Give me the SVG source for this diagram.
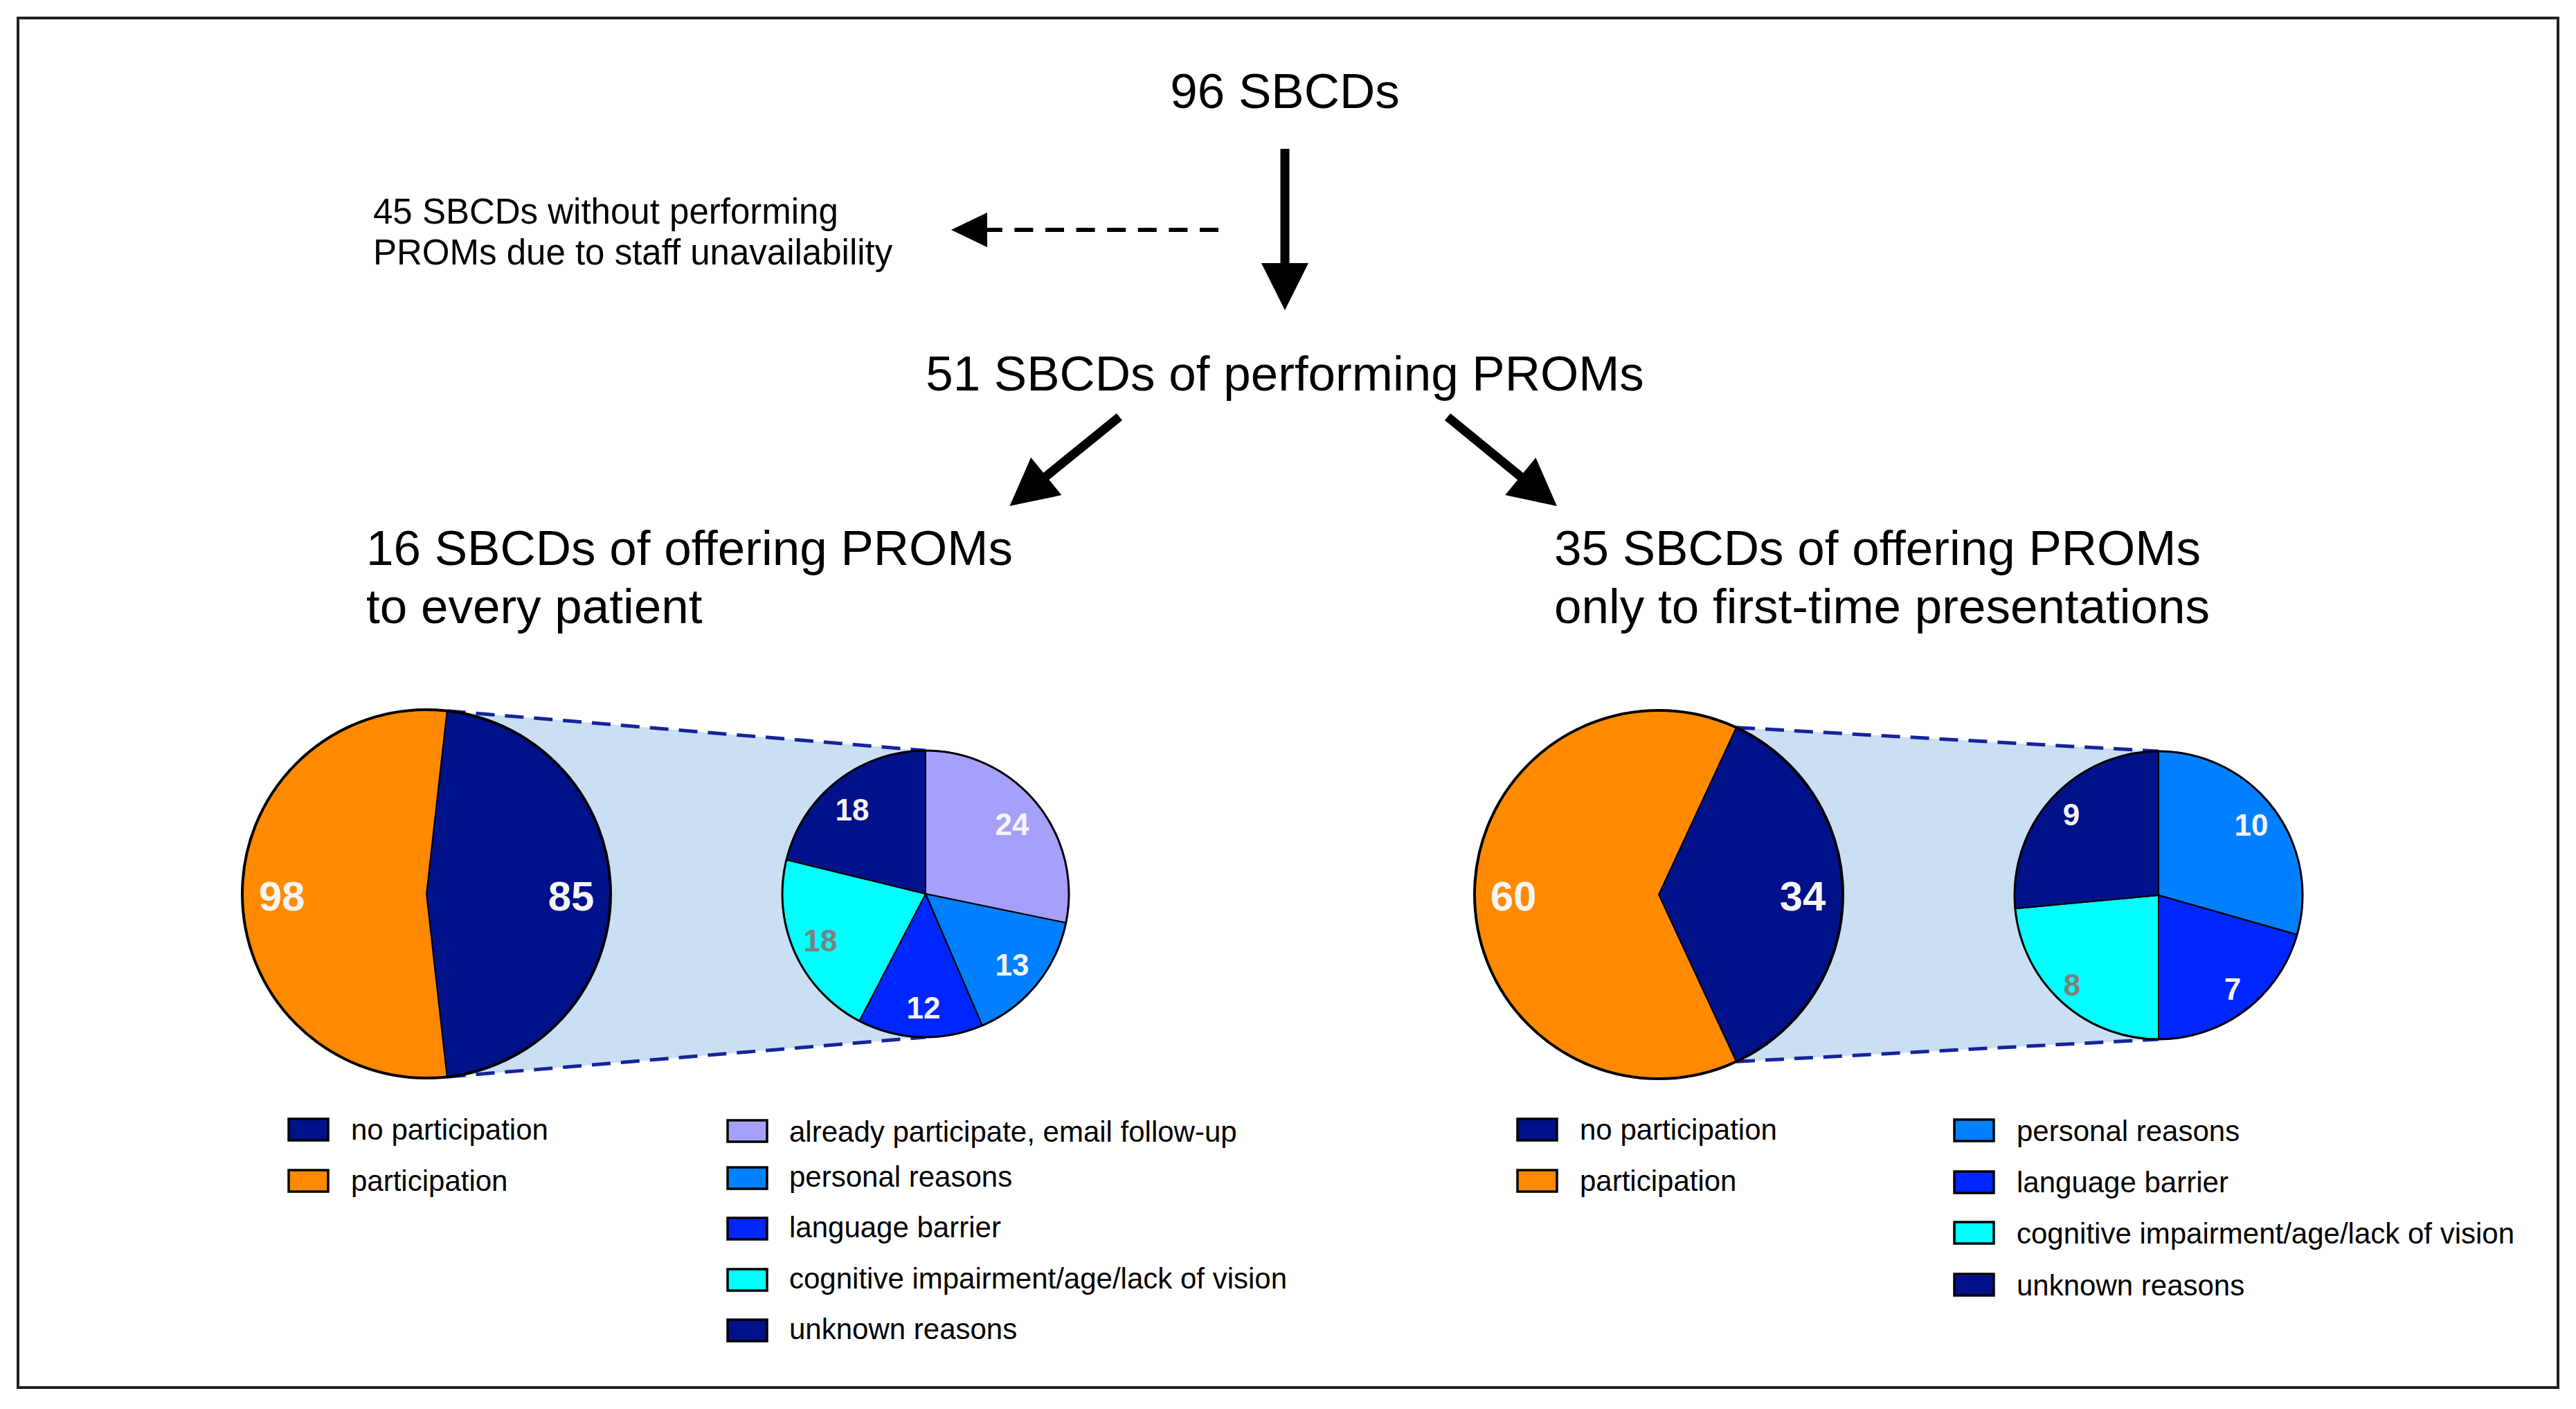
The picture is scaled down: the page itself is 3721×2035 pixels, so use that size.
<svg xmlns="http://www.w3.org/2000/svg" width="3721" height="2035" viewBox="0 0 3721 2035">
<style>
.t{font-family:"Liberation Sans",Arial,sans-serif;fill:#000}
.h{font-size:71px}
.s{font-size:51px}
.lg{font-size:42px}
.big{font-family:"Liberation Sans",Arial,sans-serif;font-weight:bold;font-size:60px;fill:#F5F5F5;text-anchor:middle}
.sm{font-family:"Liberation Sans",Arial,sans-serif;font-weight:bold;font-size:44px;fill:#F5F5F5;text-anchor:middle}
.gr{fill:#7F7F7F}
.sl{stroke:#000;stroke-width:2;stroke-linejoin:round}
.rim{fill:none;stroke:#000}
.sw{stroke:#000;stroke-width:3.5}
.navy{fill:#001189}
.orange{fill:#FF8A00}
.lav{fill:#A6A0FC}
.azure{fill:#0080FF}
.blue{fill:#0026FF}
.cyan{fill:#00FFFF}
.zoomfill{fill:#CADFF3}
.dash{stroke:#15249A;stroke-width:5;stroke-dasharray:27 15;fill:none}
.arr{stroke:#000;stroke-width:13;fill:none}
</style>
<rect x="0" y="0" width="3721" height="2035" fill="#FFFFFF"/>
<rect id="frame" x="26" y="26" width="3669" height="1978" fill="none" stroke="#222" stroke-width="4"/>

<g id="title-96">
<text class="t h" x="1856" y="156" text-anchor="middle">96 SBCDs</text>
</g>
<g id="node-45">
<text class="t s" x="539" y="323">45 SBCDs without performing</text>
<text class="t s" x="539" y="382">PROMs due to staff unavailability</text>
</g>
<g id="node-51">
<text class="t h" x="1856" y="564" text-anchor="middle">51 SBCDs of performing PROMs</text>
</g>
<g id="node-16">
<text class="t h" x="529" y="816">16 SBCDs of offering PROMs</text>
<text class="t h" x="529" y="900">to every patient</text>
</g>
<g id="node-35">
<text class="t h" x="2245" y="816">35 SBCDs of offering PROMs</text>
<text class="t h" x="2245" y="900">only to first-time presentations</text>
</g>

<g id="connectors">
<line class="arr" x1="1856" y1="215" x2="1856" y2="386"/>
<polygon points="1822,380 1890,380 1856,448" fill="#000"/>
<line x1="1760" y1="332" x2="1424" y2="332" stroke="#000" stroke-width="6" stroke-dasharray="27 17.6"/>
<polygon points="1426,307 1426,357 1374,332" fill="#000"/>
<line class="arr" x1="1617" y1="602" x2="1506" y2="692"/>
<polygon points="1533.4,715.1 1489.2,660.7 1458.5,730.8" fill="#000"/>
<line class="arr" x1="2091" y1="602" x2="2201" y2="692"/>
<polygon points="2174.2,715.1 2218.4,660.9 2249,731" fill="#000"/>
</g>

<g id="pie-left">
<polygon class="zoomfill" points="645.7,1026.7 1337,1084 1337,1498 645.7,1555.3"/>
<line class="dash" x1="645.7" y1="1026.7" x2="1337" y2="1084"/>
<line class="dash" x1="645.7" y1="1555.3" x2="1337" y2="1498"/>
<path class="navy sl" d="M616,1291 L645.7,1026.7 A266,266 0 0,1 645.7,1555.3 Z"/>
<path class="orange sl" d="M616,1291 L645.7,1555.3 A266,266 0 1,1 645.7,1026.7 Z"/>
<circle class="rim" cx="616" cy="1291" r="266" stroke-width="4"/>
<text class="big" x="407" y="1315">98</text>
<text class="big" x="825" y="1315">85</text>
</g>

<g id="pie-left-detail">
<path class="lav sl" d="M1337,1291 L1337,1084 A207,207 0 0,1 1539.74,1332.8 Z"/>
<path class="azure sl" d="M1337,1291 L1539.74,1332.8 A207,207 0 0,1 1418.85,1481.13 Z"/>
<path class="blue sl" d="M1337,1291 L1418.85,1481.13 A207,207 0 0,1 1241.32,1474.56 Z"/>
<path class="cyan sl" d="M1337,1291 L1241.32,1474.56 A207,207 0 0,1 1135.95,1241.76 Z"/>
<path class="navy sl" d="M1337,1291 L1135.95,1241.76 A207,207 0 0,1 1337,1084 Z"/>
<circle class="rim" cx="1337" cy="1291" r="207" stroke-width="3"/>
<text class="sm" x="1231" y="1185">18</text>
<text class="sm" x="1462" y="1206">24</text>
<text class="sm" x="1462" y="1409">13</text>
<text class="sm" x="1334" y="1471">12</text>
<text class="sm gr" x="1185" y="1374">18</text>
</g>

<g id="pie-right">
<polygon class="zoomfill" points="2508,1050.7 3118,1085 3118,1501 2508,1533.3"/>
<line class="dash" x1="2508" y1="1050.7" x2="3118" y2="1085"/>
<line class="dash" x1="2508" y1="1533.3" x2="3118" y2="1501"/>
<path class="navy sl" d="M2396,1292 L2508,1050.7 A266,266 0 0,1 2508,1533.3 Z"/>
<path class="orange sl" d="M2396,1292 L2508,1533.3 A266,266 0 1,1 2508,1050.7 Z"/>
<circle class="rim" cx="2396" cy="1292" r="266" stroke-width="4"/>
<text class="big" x="2186" y="1315">60</text>
<text class="big" x="2604" y="1315">34</text>
</g>

<g id="pie-right-detail">
<path class="azure sl" d="M3118,1293 L3118,1085 A208,208 0 0,1 3318.06,1349.91 Z"/>
<path class="blue sl" d="M3118,1293 L3318.06,1349.91 A208,208 0 0,1 3118,1501 Z"/>
<path class="cyan sl" d="M3118,1293 L3118,1501 A208,208 0 0,1 2910.89,1312.18 Z"/>
<path class="navy sl" d="M3118,1293 L2910.89,1312.18 A208,208 0 0,1 3118,1085 Z"/>
<circle class="rim" cx="3118" cy="1293" r="208" stroke-width="3"/>
<text class="sm" x="2992" y="1192">9</text>
<text class="sm" x="3252" y="1207">10</text>
<text class="sm" x="3225" y="1444">7</text>
<text class="sm gr" x="2993" y="1438">8</text>
</g>

<g id="legend-left">
<rect class="sw navy" x="417" y="1616" width="57" height="31"/>
<text class="t lg" x="507" y="1646">no participation</text>
<rect class="sw orange" x="417" y="1690" width="57" height="31"/>
<text class="t lg" x="507" y="1720">participation</text>
<rect class="sw lav" x="1051" y="1618" width="57" height="31"/>
<text class="t lg" x="1140" y="1649">already participate, email follow-up</text>
<rect class="sw azure" x="1051" y="1686" width="57" height="31"/>
<text class="t lg" x="1140" y="1714">personal reasons</text>
<rect class="sw blue" x="1051" y="1759" width="57" height="31"/>
<text class="t lg" x="1140" y="1787">language barrier</text>
<rect class="sw cyan" x="1051" y="1833" width="57" height="31"/>
<text class="t lg" x="1140" y="1861">cognitive impairment/age/lack of vision</text>
<rect class="sw navy" x="1051" y="1906" width="57" height="31"/>
<text class="t lg" x="1140" y="1934">unknown reasons</text>
</g>

<g id="legend-right">
<rect class="sw navy" x="2192" y="1616" width="57" height="31"/>
<text class="t lg" x="2282" y="1646">no participation</text>
<rect class="sw orange" x="2192" y="1690" width="57" height="31"/>
<text class="t lg" x="2282" y="1720">participation</text>
<rect class="sw azure" x="2823" y="1617" width="57" height="31"/>
<text class="t lg" x="2913" y="1648">personal reasons</text>
<rect class="sw blue" x="2823" y="1692" width="57" height="31"/>
<text class="t lg" x="2913" y="1722">language barrier</text>
<rect class="sw cyan" x="2823" y="1765" width="57" height="31"/>
<text class="t lg" x="2913" y="1796">cognitive impairment/age/lack of vision</text>
<rect class="sw navy" x="2823" y="1840" width="57" height="31"/>
<text class="t lg" x="2913" y="1871">unknown reasons</text>
</g>
</svg>
